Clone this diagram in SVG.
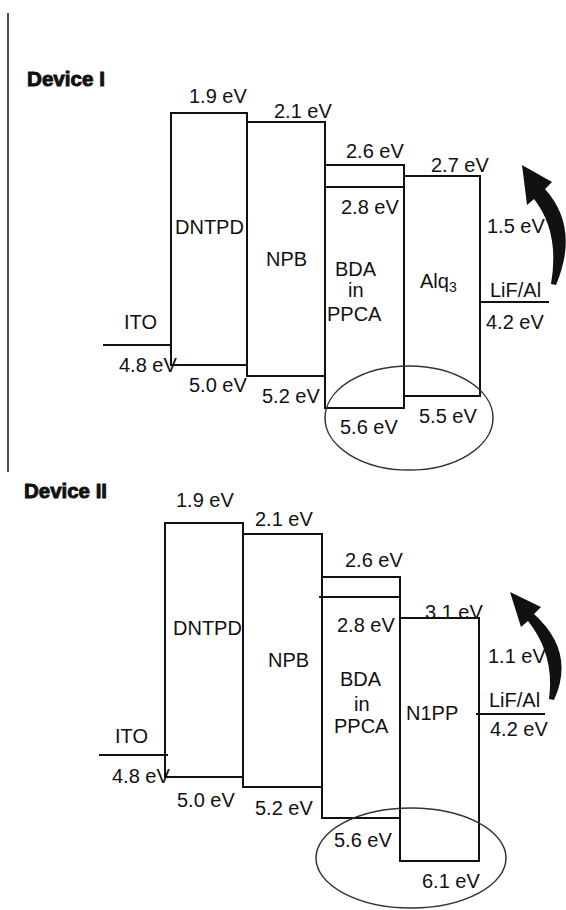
<svg xmlns="http://www.w3.org/2000/svg" width="566" height="910" viewBox="0 0 566 910">
<style>
.bg{fill:#ffffff}
.box{fill:none;stroke:#111;stroke-width:2}
.ln{stroke:#111;stroke-width:2;fill:none}
.ell{fill:none;stroke:#333;stroke-width:1.5}
.t{font-family:"Liberation Sans",Arial,sans-serif;font-size:20px;fill:#111}
.h{font-family:"Liberation Sans",Arial,sans-serif;font-size:20px;font-weight:bold;fill:#111;stroke:#111;stroke-width:0.9}
.arr{fill:#111;stroke:none}
</style>
<rect class="bg" x="0" y="0" width="566" height="910"/>
<line class="ln" x1="8" y1="13" x2="8" y2="472" style="stroke-width:1.5"/>

<!-- Device I -->
<g id="device1">
<text class="h" x="27" y="86" textLength="78" lengthAdjust="spacingAndGlyphs">Device I</text>
<g id="d1-dntpd">
<rect class="box" x="171" y="113" width="76" height="252"/>
<text class="t" x="175" y="234">DNTPD</text>
<text class="t" x="189" y="103">1.9 eV</text>
<text class="t" x="189" y="392">5.0 eV</text>
</g>
<g id="d1-npb">
<rect class="box" x="247" y="122" width="78" height="254"/>
<text class="t" x="266" y="266">NPB</text>
<text class="t" x="274" y="118">2.1 eV</text>
<text class="t" x="262" y="403">5.2 eV</text>
</g>
<g id="d1-bda">
<rect class="box" x="325" y="165" width="79" height="243"/>
<line class="ln" x1="325" y1="187" x2="404" y2="187"/>
<text class="t" x="335" y="276">BDA</text>
<text class="t" x="348" y="297">in</text>
<text class="t" x="327" y="321">PPCA</text>
<text class="t" x="346" y="158">2.6 eV</text>
<text class="t" x="341" y="214">2.8 eV</text>
<text class="t" x="340" y="434">5.6 eV</text>
</g>
<g id="d1-alq3">
<rect class="box" x="404" y="176" width="76" height="220"/>
<text class="t" x="420" y="288">Alq<tspan font-size="14" dy="4">3</tspan></text>
<text class="t" x="431" y="172">2.7 eV</text>
<text class="t" x="419" y="423">5.5 eV</text>
</g>
<g id="d1-ito">
<text class="t" x="124" y="329">ITO</text>
<text class="t" x="119" y="372">4.8 eV</text>
</g>
<g id="d1-lifal">
<text class="t" x="490" y="297">LiF/Al</text>
<text class="t" x="486" y="329">4.2 eV</text>
<text class="t" x="487" y="233">1.5 eV</text>
</g>
</g>

<!-- Device II -->
<g id="device2">
<text class="h" x="24" y="498" textLength="83" lengthAdjust="spacingAndGlyphs">Device II</text>
<g id="d2-dntpd">
<rect class="box" x="165" y="523" width="78" height="254"/>
<text class="t" x="173" y="635">DNTPD</text>
<text class="t" x="176" y="507">1.9 eV</text>
<text class="t" x="177" y="807">5.0 eV</text>
</g>
<g id="d2-npb">
<rect class="box" x="243" y="534" width="79" height="253"/>
<text class="t" x="268" y="667">NPB</text>
<text class="t" x="255" y="526">2.1 eV</text>
<text class="t" x="255" y="815">5.2 eV</text>
</g>
<g id="d2-bda">
<rect class="box" x="322" y="577" width="78" height="241"/>
<line class="ln" x1="319" y1="597" x2="400" y2="597"/>
<text class="t" x="340" y="686">BDA</text>
<text class="t" x="354" y="711">in</text>
<text class="t" x="334" y="733">PPCA</text>
<text class="t" x="345" y="567">2.6 eV</text>
<text class="t" x="337" y="632">2.8 eV</text>
<text class="t" x="334" y="847">5.6 eV</text>
</g>
<g id="d2-n1pp">
<rect class="box" x="400" y="618" width="79" height="243"/>
<text class="t" x="406" y="720">N1PP</text>
<text class="t" x="425" y="619">3.1 eV</text>
<text class="t" x="422" y="888">6.1 eV</text>
</g>
<g id="d2-ito">
<text class="t" x="115" y="743">ITO</text>
<text class="t" x="112" y="783">4.8 eV</text>
</g>
<g id="d2-lifal">
<text class="t" x="489" y="707">LiF/Al</text>
<text class="t" x="490" y="736">4.2 eV</text>
<text class="t" x="488" y="663">1.1 eV</text>
</g>
</g>

<g id="connectors">
<line class="ln" x1="103" y1="345" x2="171" y2="345"/>
<line class="ln" x1="480" y1="302" x2="549" y2="302"/>
<line class="ln" x1="99" y1="755" x2="168" y2="755"/>
<line class="ln" x1="476" y1="714" x2="545" y2="714"/>
<path class="arr" d="M522,165 L552,182 L545,189 Q580,228 556,285 L551,284 Q560,232 534,199 L527,205 Z"/>
<path class="arr" d="M510,592 L541,607 L534,614 Q576,652 554,700 L549,699 Q555,655 528,621 L521,627 Z"/>
</g>

<g id="highlights">
<ellipse class="ell" cx="409" cy="418" rx="84" ry="52"/>
<ellipse class="ell" cx="411" cy="858" rx="95" ry="50"/>
</g>
</svg>
